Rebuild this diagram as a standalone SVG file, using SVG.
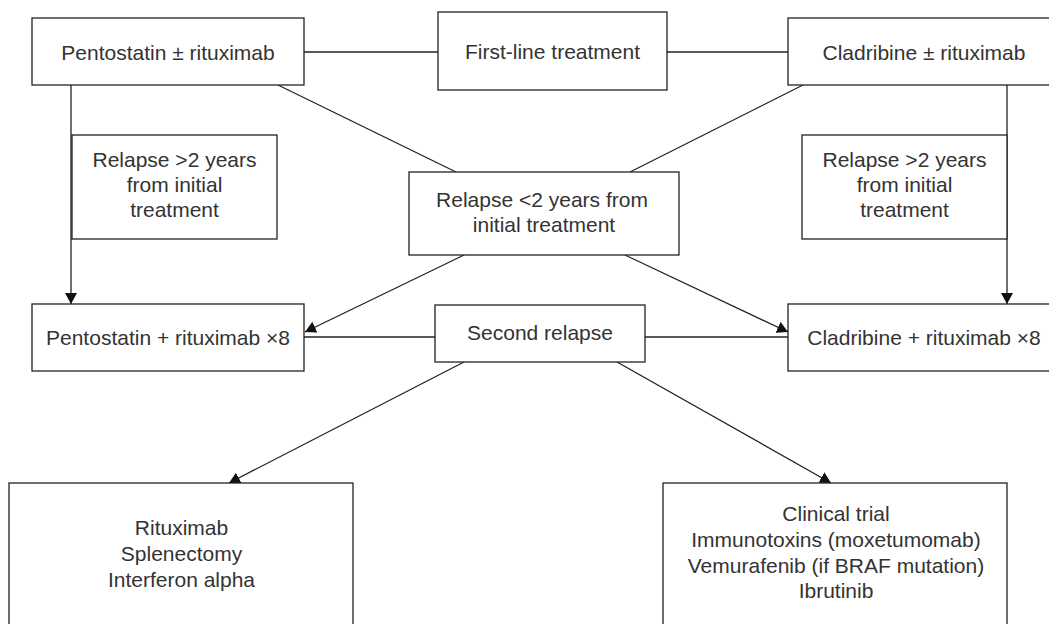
<svg xmlns="http://www.w3.org/2000/svg" width="1049" height="624" viewBox="0 0 1049 624">
<style>
.box{fill:#fff;stroke:#222;stroke-width:1.3}
.t{font-family:"Liberation Sans",Arial,sans-serif;font-size:21px;fill:#333;text-anchor:middle;dominant-baseline:central}
.c{stroke:#222;stroke-width:1.3;fill:none}
.a{marker-end:url(#arr)}
</style>
<defs>
<marker id="arr" markerUnits="userSpaceOnUse" markerWidth="12" markerHeight="12" refX="11" refY="6" orient="auto">
<path d="M0,0 L11,6 L0,12 z" fill="#111"/>
</marker>
</defs>
<rect width="1049" height="624" fill="#fff"/>
<g id="connectors">
<line class="c" x1="304" y1="52" x2="438" y2="52"/>
<line class="c" x1="667" y1="52" x2="788" y2="52"/>
<line class="c a" x1="71" y1="85" x2="71" y2="304"/>
<line class="c a" x1="1007" y1="85" x2="1007" y2="304"/>
<line class="c" x1="278" y1="85" x2="456" y2="172"/>
<line class="c" x1="803" y1="85" x2="630" y2="172"/>
<line class="c a" x1="464" y1="255" x2="305" y2="332"/>
<line class="c a" x1="625" y1="255" x2="788" y2="332"/>
<line class="c" x1="304" y1="337" x2="435" y2="337"/>
<line class="c" x1="645" y1="337" x2="788" y2="337"/>
<line class="c a" x1="464" y1="362" x2="229" y2="483"/>
<line class="c a" x1="617" y1="362" x2="831" y2="483"/>
</g>
<g id="n-pento">
<rect class="box" x="32" y="18" width="272" height="67"/>
<text class="t" x="168" y="52">Pentostatin ± rituximab</text>
</g>
<g id="n-first">
<rect class="box" x="438" y="12" width="229" height="78"/>
<text class="t" x="552.5" y="51">First-line treatment</text>
</g>
<g id="n-cladri">
<rect class="box" x="788" y="18" width="272" height="67"/>
<text class="t" x="924" y="52">Cladribine ± rituximab</text>
</g>
<g id="n-relapse-left">
<rect class="box" x="72" y="135" width="205" height="104"/>
<text class="t" x="174.5" y="159.5">Relapse &gt;2 years</text>
<text class="t" x="174.5" y="184.5">from initial</text>
<text class="t" x="174.5" y="209.5">treatment</text>
</g>
<g id="n-relapse-right">
<rect class="box" x="802" y="135" width="205" height="104"/>
<text class="t" x="904.5" y="159.5">Relapse &gt;2 years</text>
<text class="t" x="904.5" y="184.5">from initial</text>
<text class="t" x="904.5" y="209.5">treatment</text>
</g>
<g id="n-relapse-early">
<rect class="box" x="409" y="172" width="270" height="83"/>
<text class="t" x="542" y="199">Relapse &lt;2 years from</text>
<text class="t" x="544" y="224.5">initial treatment</text>
</g>
<g id="n-pento8">
<rect class="box" x="32" y="304" width="272" height="67"/>
<text class="t" x="168" y="337.5">Pentostatin + rituximab ×8</text>
</g>
<g id="n-second">
<rect class="box" x="435" y="305" width="210" height="57"/>
<text class="t" x="540" y="332.5">Second relapse</text>
</g>
<g id="n-cladri8">
<rect class="box" x="788" y="304" width="272" height="67"/>
<text class="t" x="924" y="337.5">Cladribine + rituximab ×8</text>
</g>
<g id="n-ritux">
<rect class="box" x="9" y="483" width="344" height="170"/>
<text class="t" x="181.5" y="527">Rituximab</text>
<text class="t" x="181.5" y="553">Splenectomy</text>
<text class="t" x="181.5" y="579">Interferon alpha</text>
</g>
<g id="n-trial">
<rect class="box" x="663" y="483" width="344" height="170"/>
<text class="t" x="836" y="513.5">Clinical trial</text>
<text class="t" x="836" y="539.5">Immunotoxins (moxetumomab)</text>
<text class="t" x="836" y="565">Vemurafenib (if BRAF mutation)</text>
<text class="t" x="836" y="590.5">Ibrutinib</text>
</g>
</svg>
